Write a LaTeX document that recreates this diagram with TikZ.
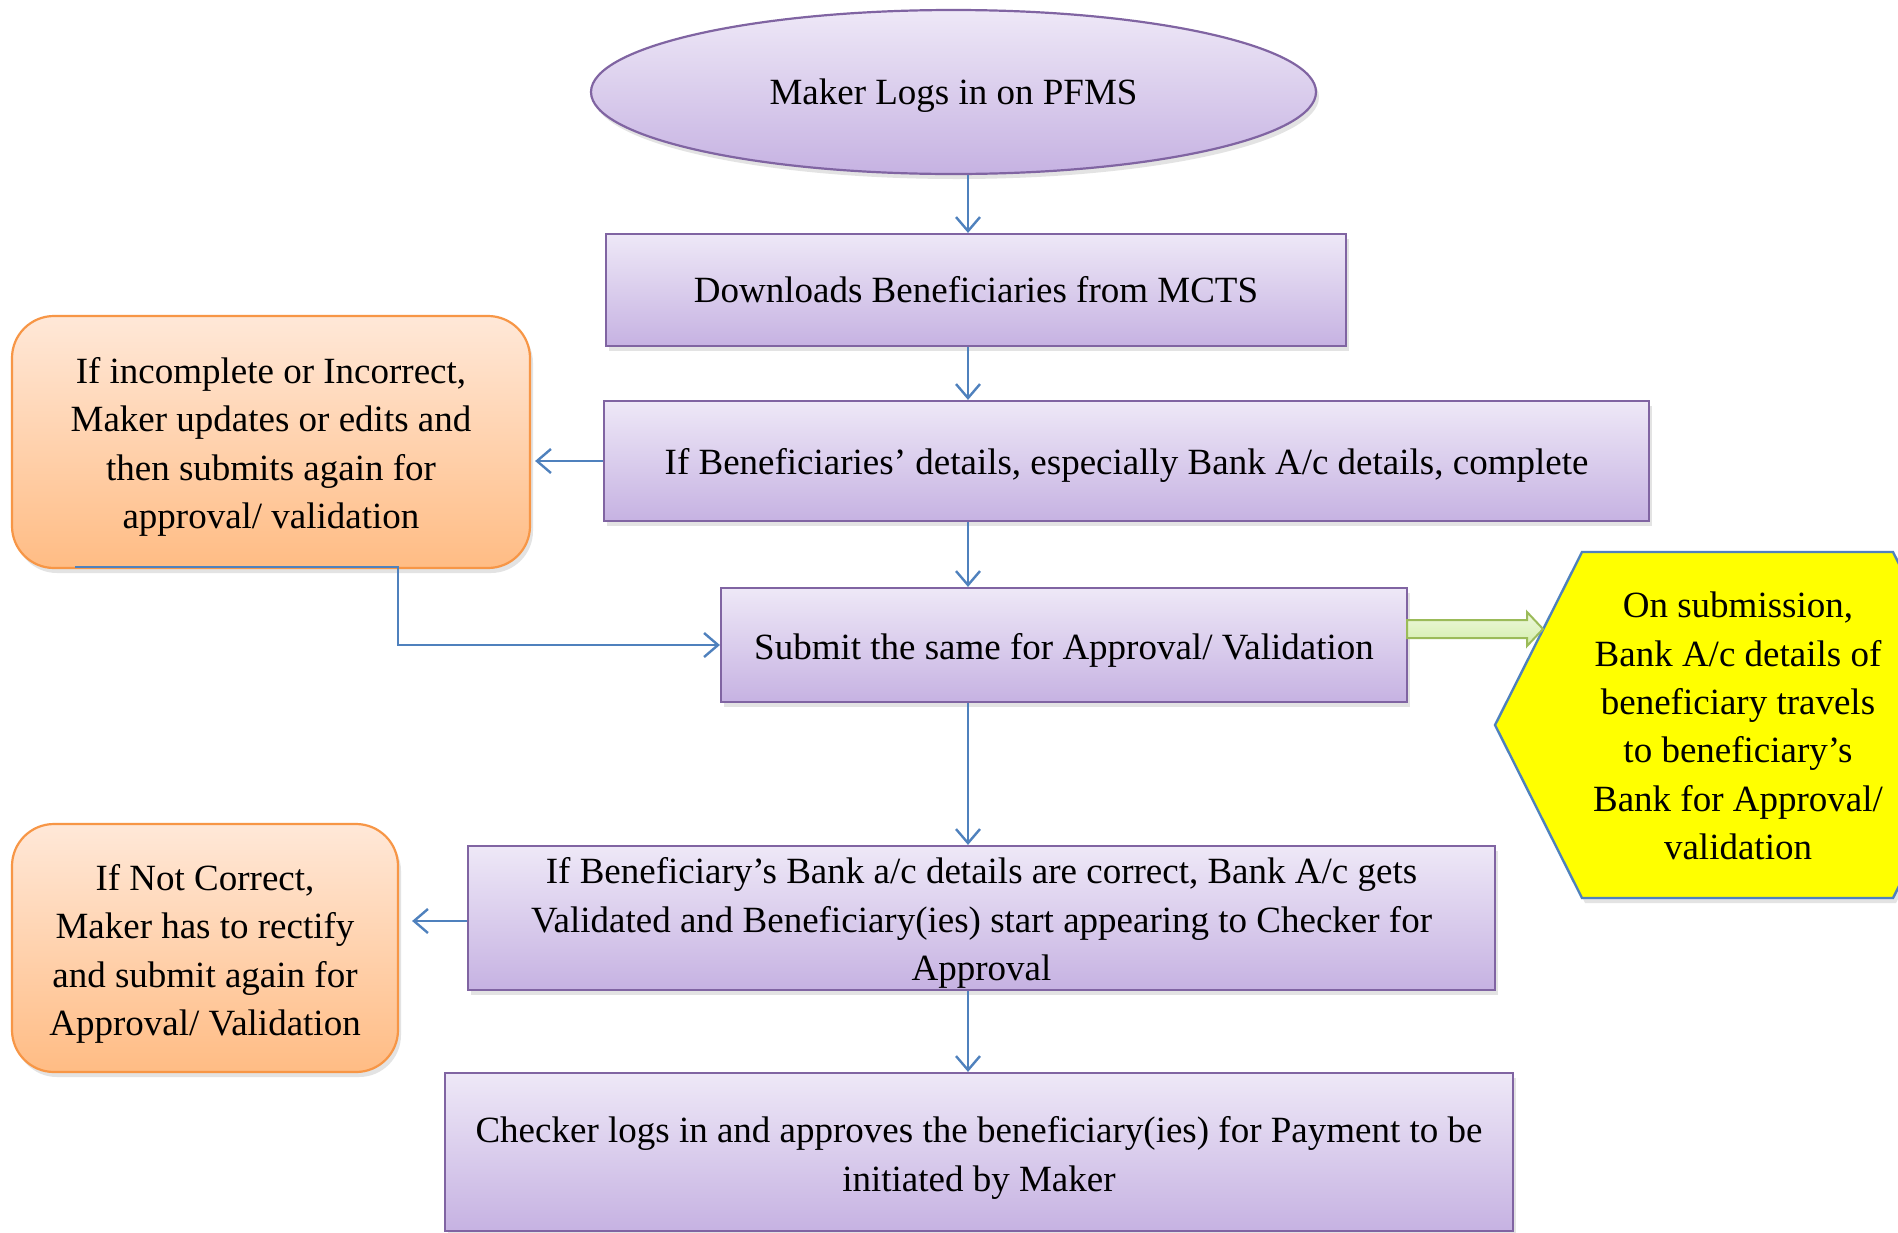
\documentclass[tikz,border=0pt]{standalone}
\usepackage{fontspec}
\setmainfont{Liberation Serif}
\usetikzlibrary{arrows.meta,shapes.geometric,shadows}
\definecolor{pborder}{HTML}{8064A2}
\definecolor{ptop}{HTML}{EEE8F7}
\definecolor{pbot}{HTML}{C6B2E2}
\definecolor{oborder}{HTML}{F79646}
\definecolor{otop}{HTML}{FFE8D8}
\definecolor{obot}{HTML}{FFBC84}
\definecolor{ablue}{HTML}{4F81BD}
\definecolor{gborder}{HTML}{9BBB59}
\definecolor{gtop}{HTML}{EEF8DD}
\definecolor{gbot}{HTML}{D3EEAA}
\definecolor{hexfill}{HTML}{FFFF00}
\begin{document}
\begin{tikzpicture}[x=1pt,y=-1pt,
  every node/.style={inner sep=0pt},
  txt/.style={font=\fontsize{37}{48.4}\selectfont, align=center},
  softshadow/.style={drop shadow={opacity=0.22, shadow xshift=3pt, shadow yshift=-5pt}},
  pbox/.style={draw=pborder, line width=2.2pt, top color=ptop, bottom color=pbot, softshadow},
  obox/.style={draw=oborder, line width=2.2pt, top color=otop, bottom color=obot, rounded corners=42pt, softshadow},
  conn/.style={draw=ablue, line width=2.4pt, -{Straight Barb[length=14pt, width=24pt, line width=2.4pt]}},
  garrow/.style={draw=gborder, line width=2pt, top color=gtop, bottom color=gbot},
  hexshape/.style={draw=ablue, line width=2.4pt, fill=hexfill, softshadow}
]
\useasboundingbox (0,0) rectangle (1898,1232);
\fill[white] (0,0) rectangle (1898,1232);

\coordinate (spine) at (968,0);

% shapes
\node[ellipse, pbox, minimum width=725pt, minimum height=164pt] (ell) at (953.5,92) {};
\node[pbox, minimum width=740pt, minimum height=112pt] (b1) at (976,290) {};
\node[pbox, minimum width=1045pt, minimum height=120pt] (b2) at (1126.5,461) {};
\node[pbox, minimum width=686pt, minimum height=114pt] (b3) at (1064,645) {};
\node[pbox, minimum width=1027pt, minimum height=144pt] (b4) at (981.5,918) {};
\node[pbox, minimum width=1068pt, minimum height=158pt] (b5) at (979,1152) {};
\node[obox, minimum width=518pt, minimum height=252pt] (o1) at (271,442) {};
\node[obox, minimum width=386pt, minimum height=248pt] (o2) at (205,948) {};
\path[hexshape] (1495,725) -- (1582,552) -- (1893,552) -- (1980,725) -- (1893,898) -- (1582,898) -- cycle;

% texts
\node[txt, yshift=-4pt] (tell) at (ell) {Maker Logs in on PFMS};
\node[txt] (tb1) at (b1) {Downloads Beneficiaries from MCTS};
\node[txt, yshift=-4pt] (tb2) at (b2) {If Beneficiaries’ details, especially Bank A/c details, complete};
\node[txt, yshift=-5pt] (tb3) at (b3) {Submit the same for Approval/ Validation};
\node[txt, yshift=-5pt] (tb4) at (b4) {If Beneficiary’s Bank a/c details are correct, Bank A/c gets\\Validated and Beneficiary(ies) start appearing to Checker for\\Approval};
\node[txt, yshift=-6pt] (tb5) at (b5) {Checker logs in and approves the beneficiary(ies) for Payment to be\\initiated by Maker};
\node[txt, yshift=-5pt] (to1) at (o1) {If incomplete or Incorrect,\\Maker updates or edits and\\then submits again for\\approval/ validation};
\node[txt, yshift=-6pt] (to2) at (o2) {If Not Correct,\\Maker has to rectify\\and submit again for\\Approval/ Validation};
\node[txt] (hex) at (1738,726) {On submission,\\Bank A/c details of\\beneficiary travels\\to beneficiary’s\\Bank for Approval/\\validation};

% green block arrow
\coordinate (gs) at (1407,629);
\path[garrow] (gs) ++(0,-9) -- ++(120,0) -- ++(0,-8) -- ++(16,17) -- ++(-16,17) -- ++(0,-8) -- ++(-120,0) -- cycle;

% connectors
\draw[conn] (ell.south -| spine) -- (b1.north -| spine);
\draw[conn] (b1.south -| spine) -- (b2.north -| spine);
\draw[conn] (b2.south -| spine) -- (b3.north -| spine);
\draw[conn] (b3.south -| spine) -- (b4.north -| spine);
\draw[conn] (b4.south -| spine) -- (b5.north -| spine);
\draw[conn, shorten >=4pt] (b2.west) -- (b2.west -| o1.east);
\draw[conn, shorten >=13pt] (b4.west |- 0,921) -- (o2.east |- 0,921);
\coordinate (c1) at (75,567);
\draw[conn] (c1) -- (398,567) |- (b3.west);
\end{tikzpicture}
\end{document}
